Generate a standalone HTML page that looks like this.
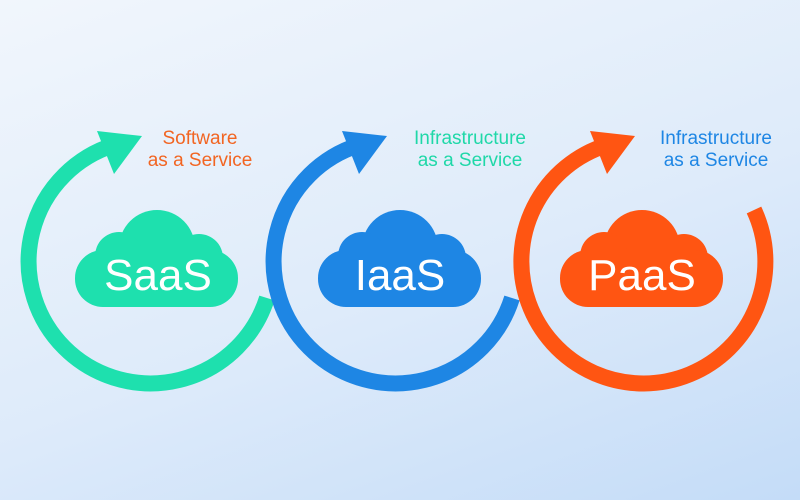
<!DOCTYPE html>
<html><head><style>
html,body{margin:0;padding:0;width:800px;height:500px;overflow:hidden}
body{background:linear-gradient(160deg,#f1f6fc 0%,#deebfa 55%,#c4dcf8 100%);font-family:"Liberation Sans","DejaVu Sans",sans-serif}
</style></head><body>
<svg width="800" height="500" viewBox="0 0 800 500" xmlns="http://www.w3.org/2000/svg">
<defs>
<g id="cloud">
<circle cx="0" cy="-12" r="38"/>
<circle cx="-38" cy="-4" r="24"/>
<circle cx="42" cy="-2" r="24"/>
<rect x="-82" y="-10" width="163" height="57" rx="28"/>
</g>
</defs>
<!-- green -->
<path d="M114 145 A122 122 0 1 0 267 298" fill="none" stroke="#1ee0ae" stroke-width="16"/>
<polygon points="97,131 142,136 114,174" fill="#1ee0ae"/>
<!-- blue -->
<path d="M359 145 A122 122 0 1 0 512 298" fill="none" stroke="#1e86e4" stroke-width="16"/>
<polygon points="342,131 387,136 359,174" fill="#1e86e4"/>
<!-- orange -->
<path d="M607 145 A122 122 0 1 0 754 210" fill="none" stroke="#ff5512" stroke-width="16"/>
<polygon points="590,131 635,136 607,174" fill="#ff5512"/>
<use href="#cloud" x="157" y="260" fill="#1ee0ae"/>
<use href="#cloud" x="400" y="260" fill="#1e86e4"/>
<use href="#cloud" x="642" y="260" fill="#ff5512"/>
<g font-size="44" fill="#fff" text-anchor="middle">
<text x="158" y="290">SaaS</text>
<text x="400" y="290">IaaS</text>
<text x="642" y="290">PaaS</text>
</g>
<g font-size="19" text-anchor="middle">
<text x="200" y="144" fill="#f26522">Software</text>
<text x="200" y="166" fill="#f26522">as a Service</text>
<text x="470" y="144" fill="#1fd8a8">Infrastructure</text>
<text x="470" y="166" fill="#1fd8a8">as a Service</text>
<text x="716" y="144" fill="#1e86e4">Infrastructure</text>
<text x="716" y="166" fill="#1e86e4">as a Service</text>
</g>
</svg>
</body></html>
